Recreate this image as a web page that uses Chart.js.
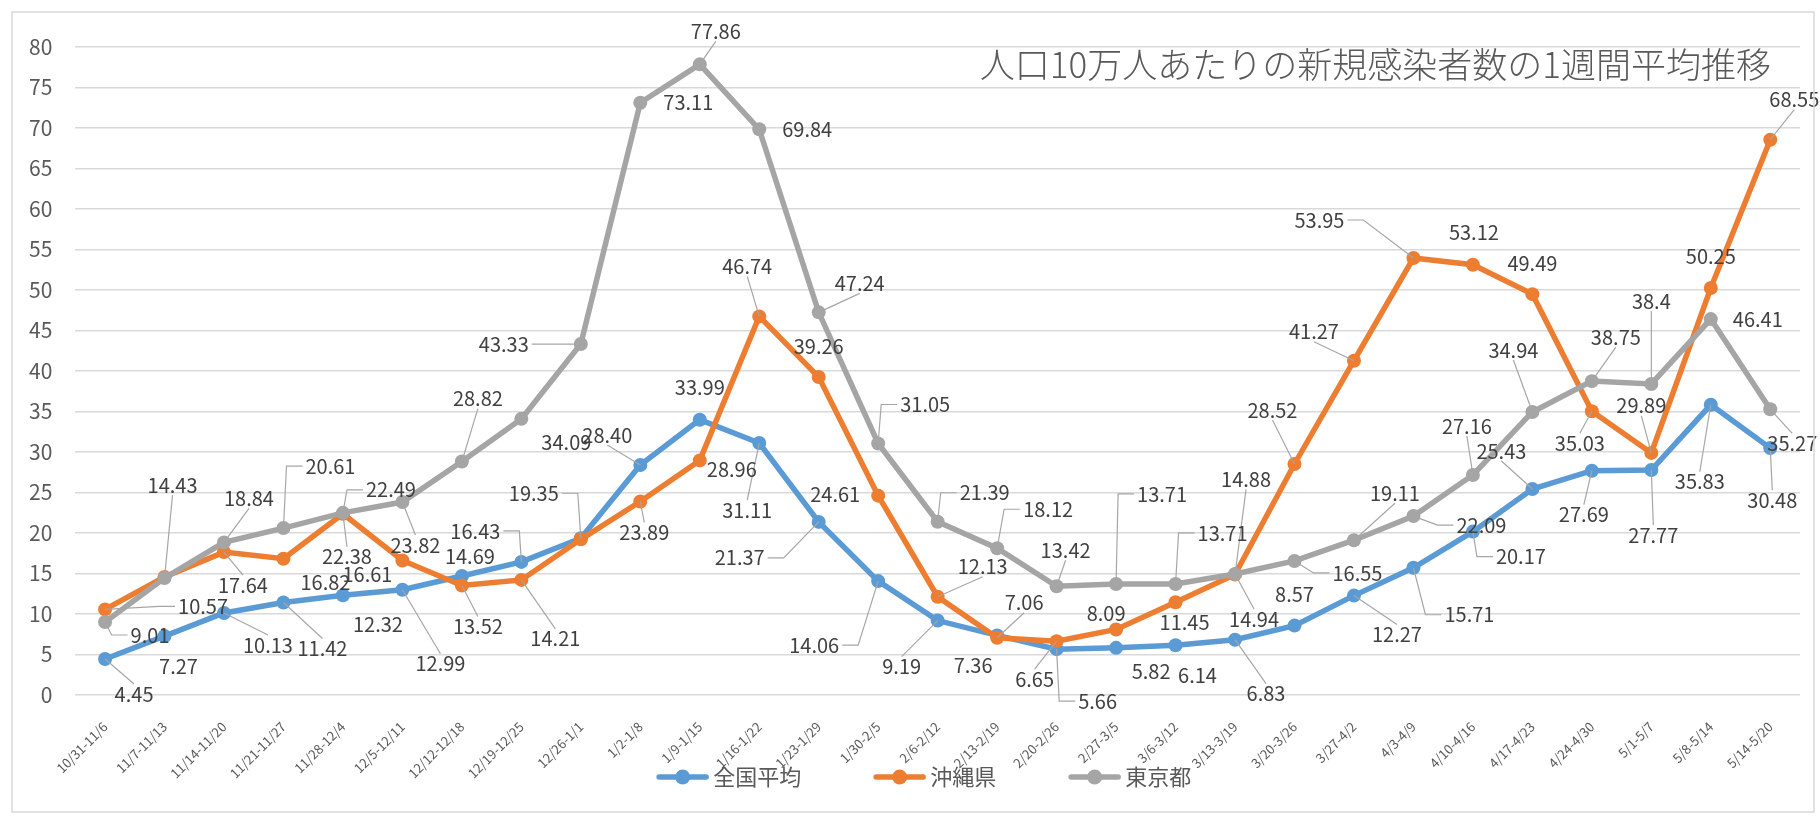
<!DOCTYPE html>
<html lang="ja">
<head>
<meta charset="utf-8">
<title>人口10万人あたりの新規感染者数の1週間平均推移</title>
<script src="https://cdn.jsdelivr.net/npm/chart.js@4.4.1/dist/chart.umd.min.js"></script>
<style>
  html, body { margin: 0; padding: 0; background: #ffffff; }
  #wrap { width: 1820px; height: 817px; position: relative; }
</style>
</head>
<body>
<div id="wrap"><canvas id="lineChart"></canvas></div>
<script>
// 週ごとの区間
const weeks = [
    '10/31-11/6', '11/7-11/13', '11/14-11/20', '11/21-11/27', '11/28-12/4',
    '12/5-12/11', '12/12-12/18', '12/19-12/25', '12/26-1/1', '1/2-1/8',
    '1/9-1/15', '1/16-1/22', '1/23-1/29', '1/30-2/5', '2/6-2/12',
    '2/13-2/19', '2/20-2/26', '2/27-3/5', '3/6-3/12', '3/13-3/19',
    '3/20-3/26', '3/27-4/2', '4/3-4/9', '4/10-4/16', '4/17-4/23',
    '4/24-4/30', '5/1-5/7', '5/8-5/14', '5/14-5/20'
];

const nationalAvg = [
    4.45, 7.27, 10.13, 11.42, 12.32, 12.99, 14.69, 16.43, 19.35, 28.40,
    33.99, 31.11, 21.37, 14.06, 9.19, 7.36, 5.66, 5.82, 6.14, 6.83,
    8.57, 12.27, 15.71, 20.17, 25.43, 27.69, 27.77, 35.83, 30.48
];

const okinawa = [
    10.57, 14.57, 17.64, 16.82, 22.38, 16.61, 13.52, 14.21, 19.22, 23.89,
    28.96, 46.74, 39.26, 24.61, 12.13, 7.06, 6.65, 8.09, 11.45, 14.88,
    28.52, 41.27, 53.95, 53.12, 49.49, 35.03, 29.89, 50.25, 68.55
];

const tokyo = [
    9.01, 14.43, 18.84, 20.61, 22.49, 23.82, 28.82, 34.09, 43.33, 73.11,
    77.86, 69.84, 47.24, 31.05, 21.39, 18.12, 13.42, 13.71, 13.71, 14.94,
    16.55, 19.11, 22.09, 27.16, 34.94, 38.75, 38.4, 46.41, 35.27
];

const seriesNames = ['全国平均', '沖縄県', '東京都'];
const seriesColors = ['#5B9BD5', '#ED7D31', '#A5A5A5'];
const yMin = 0, yMax = 80, yStep = 5;
const chartTitle = '人口10万人あたりの新規感染者数の1週間平均推移';

// ラベル位置 [dx, dy, 引き出し線: 0なし 1直線 2かぎ型] (null = ラベルなし)
const nationalLabelPos = [
    [29, 35, 1], [14, 30, 0], [44, 32, 1], [39, 46, 1], [35, 29, 0],
    [38, 74, 1], [8, -20, 0], [-46, -31, 2], [-47, -45, 2], [-33, -30, 1],
    [0, -32, 0], [-12, 67, 1], [-79, 36, 2], [-64, 64, 2], [-36, 46, 1],
    [-24, 30, 0], [41, 52, 2], [35, 24, 0], [22, 30, 0], [31, 54, 1],
    [0, -31, 0], [43, 39, 1], [56, 47, 2], [48, 25, 2], [-31, -38, 1],
    [-8, 44, 1], [2, 65, 1], [-11, 77, 1], [2, 52, 1]
];
const okinawaLabelPos = [
    [98, -3, 2], null, [19, 33, 1], [42, 24, 0], [4, 43, 1],
    [-35, 14, 0], [16, 41, 1], [34, 59, 1], null, [4, 31, 1],
    [32, 9, 0], [-12, -50, 1], [0, -31, 0], [-43, -1, 0], [45, -30, 1],
    [27, -35, 1], [-22, 38, 1], [-10, -16, 0], [9, 20, 0], [11, -95, 1],
    [-22, -54, 1], [-40, -29, 1], [-94, -38, 2], [1, -32, 0], [0, -31, 0],
    [-12, 32, 1], [-10, -47, 1], [0, -32, 0], [24, -40, 1]
];
const tokyoLabelPos = [
    [45, 13, 2], [8, -93, 1], [25, -44, 1], [47, -62, 2], [48, -23, 2],
    [13, 43, 1], [16, -63, 1], [45, 24, 0], [-77, 0, 2], [48, 0, 0],
    [16, -33, 1], [48, 0, 0], [41, -29, 1], [47, -39, 2], [47, -29, 2],
    [51, -39, 2], [9, -36, 1], [46, -90, 2], [47, -51, 2], [19, 45, 1],
    [63, 12, 2], [41, -47, 1], [68, 9, 2], [-6, -49, 1], [-19, -62, 1],
    [24, -44, 1], [0, -83, 1], [47, 0, 0], [22, 34, 1]
];

const labelPositions = [nationalLabelPos, okinawaLabelPos, tokyoLabelPos];
const labelFormats = [v => v.toFixed(2), v => String(v), v => String(v)];

const fontFamily = "'Noto Sans CJK JP', 'Noto Sans', sans-serif";
Chart.defaults.font.family = fontFamily;

// 引き出し線
function drawLeader(ctx, px, py, cx, cy, w, h, type) {
    const l = cx - w / 2 - 3, r = cx + w / 2 + 3;
    const t = cy - h / 2, b = cy + h / 2;
    ctx.beginPath();
    if (type === 2) {
        const sx = px < cx ? l : r;
        const dir = px < cx ? -1 : 1;
        const stub = Math.min(16, Math.abs(px - sx));
        ctx.moveTo(sx, cy);
        ctx.lineTo(sx + dir * stub, cy);
        ctx.lineTo(px, py);
    } else {
        ctx.moveTo(cx, py < cy ? t : b);
        ctx.lineTo(px, py);
    }
    ctx.stroke();
}

const dataLabelPlugin = {
    id: 'dataLabels',
    afterDatasetsDraw(chart) {
        const ctx = chart.ctx;
        const items = [];
        ctx.save();
        ctx.font = '20px ' + fontFamily;
        chart.data.datasets.forEach((ds, di) => {
            const meta = chart.getDatasetMeta(di);
            meta.data.forEach((pt, i) => {
                const p = labelPositions[di][i];
                if (!p) return;
                const text = labelFormats[di](ds.data[i]);
                items.push({ text, px: pt.x, py: pt.y, cx: pt.x + p[0], cy: pt.y + p[1], w: ctx.measureText(text).width, type: p[2] });
            });
        });
        ctx.strokeStyle = '#a6a6a6';
        ctx.lineWidth = 1.2;
        items.forEach(it => {
            if (it.type) drawLeader(ctx, it.px, it.py, it.cx, it.cy, it.w, 20, it.type);
        });
        ctx.fillStyle = '#404040';
        ctx.textAlign = 'center';
        ctx.textBaseline = 'middle';
        items.forEach(it => ctx.fillText(it.text, it.cx, it.cy));
        ctx.restore();
    }
};

// 枠線・タイトル・凡例
const decorPlugin = {
    id: 'decor',
    afterDraw(chart) {
        const ctx = chart.ctx;
        const area = chart.chartArea;
        ctx.save();
        ctx.strokeStyle = '#d9d9d9';
        ctx.lineWidth = 1.5;
        ctx.strokeRect(12, 12, chart.width - 18, chart.height - 17);

        ctx.fillStyle = '#595959';
        ctx.font = '300 35px ' + fontFamily;
        ctx.textAlign = 'right';
        ctx.textBaseline = 'middle';
        ctx.fillText(chartTitle, area.right - 29, 65);

        ctx.font = '22px ' + fontFamily;
        ctx.textAlign = 'left';
        const lineLen = 53, gap = 4, itemGap = 72;
        const widths = chart.data.datasets.map(ds => lineLen + gap + ctx.measureText(ds.label).width);
        const total = widths.reduce((a, b) => a + b, 0) + itemGap * (widths.length - 1);
        let x = (area.left + area.right) / 2 - 14 - total / 2;
        const y = chart.height - 40;
        chart.data.datasets.forEach((ds, i) => {
            ctx.strokeStyle = ds.borderColor;
            ctx.lineWidth = 5.5;
            ctx.lineCap = 'round';
            ctx.beginPath();
            ctx.moveTo(x + 3, y);
            ctx.lineTo(x + lineLen - 3, y);
            ctx.stroke();
            ctx.fillStyle = ds.borderColor;
            ctx.beginPath();
            ctx.arc(x + lineLen / 2, y, 7.5, 0, Math.PI * 2);
            ctx.fill();
            ctx.fillStyle = '#595959';
            ctx.fillText(ds.label, x + lineLen + gap, y);
            x += widths[i] + itemGap;
        });
        ctx.restore();
    }
};

const seriesValues = [nationalAvg, okinawa, tokyo];
const datasets = seriesValues.map((values, i) => ({
    label: seriesNames[i],
    data: values,
    borderColor: seriesColors[i],
    backgroundColor: seriesColors[i],
    pointBackgroundColor: seriesColors[i],
    pointBorderColor: seriesColors[i],
    borderWidth: 5.5,
    pointRadius: 7,
    pointBorderWidth: 0,
    tension: 0,
    order: 2 - i
}));

const ctx = document.getElementById('lineChart').getContext('2d');
new Chart(ctx, {
    type: 'line',
    data: { labels: weeks, datasets: datasets },
    options: {
        responsive: true,
        maintainAspectRatio: false,
        animation: false,
        layout: { padding: { left: 6, right: 20, top: 47, bottom: 30 } },
        scales: {
            x: {
                offset: true,
                grid: { display: false },
                border: { display: false },
                afterFit(scale) {
                    scale.paddingLeft = 0;
                    scale.paddingRight = 0;
                    scale.height = 92;
                },
                ticks: {
                    autoSkip: false,
                    maxRotation: 45,
                    minRotation: 45,
                    padding: 16,
                    color: '#595959',
                    font: { size: 13 }
                }
            },
            y: {
                min: yMin,
                max: yMax,
                grid: { color: '#d9d9d9', lineWidth: 1.5, drawTicks: false },
                border: { display: false },
                ticks: {
                    stepSize: yStep,
                    padding: 23,
                    color: '#595959',
                    font: { size: 21 }
                }
            }
        },
        plugins: {
            legend: { display: false },
            title: { display: false },
            tooltip: { enabled: false }
        }
    },
    plugins: [dataLabelPlugin, decorPlugin]
});
</script>
</body>
</html>
